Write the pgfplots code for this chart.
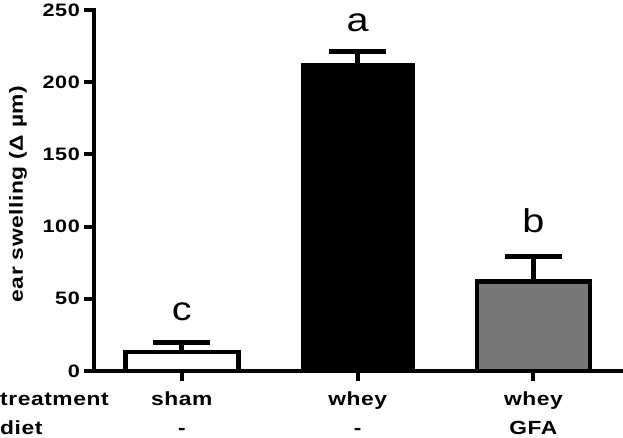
\documentclass[border=0pt]{standalone}
\usepackage{fontspec}
\setmainfont{Liberation Sans}
\newfontfamily\trk{Liberation Sans}[LetterSpace=3, FakeStretch=1.2]
\newfontfamily\wide{Liberation Sans}[FakeStretch=1.2]
\newcommand\hs{\rule{0pt}{14pt}}
\usepackage{pgfplots}
\pgfplotsset{compat=1.18}
\definecolor{gfagray}{RGB}{120,120,120}
\begin{document}
\begin{tikzpicture}
\begin{axis}[
  name=ax,
  width=529pt, height=361pt, scale only axis,
  xmin=-0.5, xmax=2.51, ymin=0, ymax=250,
  axis x line=bottom, axis y line=left,
  axis line style={line width=4pt, -, line cap=rect},
  ytick={0,50,...,250},
  xtick={0,1,2},
  xticklabels={{\hs sham\\\hs -},{\hs whey\\\hs -},{\hs whey\\\hs GFA}},
  tick align=outside,
  major tick length=10pt,
  tick style={line width=4pt, black},
  minor tick num=0,
  /pgf/number format/assume math mode=true,
  yticklabel style={font=\trk\bfseries\fontsize{18}{22}\selectfont, inner sep=0pt, anchor=east, xshift=-4pt},
  xticklabel style={font=\trk\bfseries\fontsize{19}{28.5}\selectfont, align=center, inner sep=0pt, anchor=north, yshift=-10.5pt},
  ylabel={ear swelling (Δ µm)},
  every axis y label/.style={at={(rel axis cs:0,0.49)}, xshift=-76pt, rotate=90, anchor=center, font=\trk\bfseries\fontsize{19}{22}\selectfont},
  ybar, bar width=113pt, bar shift=0pt,
  error bars/y dir=plus, error bars/y explicit,
  error bars/error bar style={line width=5pt, black},
  error bars/error mark options={rotate=90, line width=5pt, mark size=28.5pt, black},
  clip=false,
]
\addplot[fill=white, draw=black, line width=4.5pt] coordinates {(0,13) +- (0,6.4)};
\addplot[fill=black, draw=black, line width=1pt] coordinates {(1,213) +- (0,8)};
\addplot[fill=gfagray, draw=black, line width=4.5pt] coordinates {(2,62) +- (0,17)};
\node[font=\wide\fontsize{33}{36}\selectfont, anchor=base] at (axis cs:0,35.3) {c};
\node[font=\wide\fontsize{33}{36}\selectfont, anchor=base] at (axis cs:1,234.8) {a};
\node[font=\wide\fontsize{33}{36}\selectfont, anchor=base] at (axis cs:2,95.6) {b};
\node[font=\trk\bfseries\fontsize{19}{28.5}\selectfont, align=left, inner sep=0pt, anchor=north west] at ([xshift=-94pt, yshift=-20.5pt]rel axis cs:0,0) {\hs treatment\\\hs diet};
\end{axis}
\pgfresetboundingbox
\useasboundingbox ([xshift=-94pt, yshift=-67pt]ax.south west) rectangle ([xshift=0pt, yshift=10pt]ax.north east);
\end{tikzpicture}
\end{document}
